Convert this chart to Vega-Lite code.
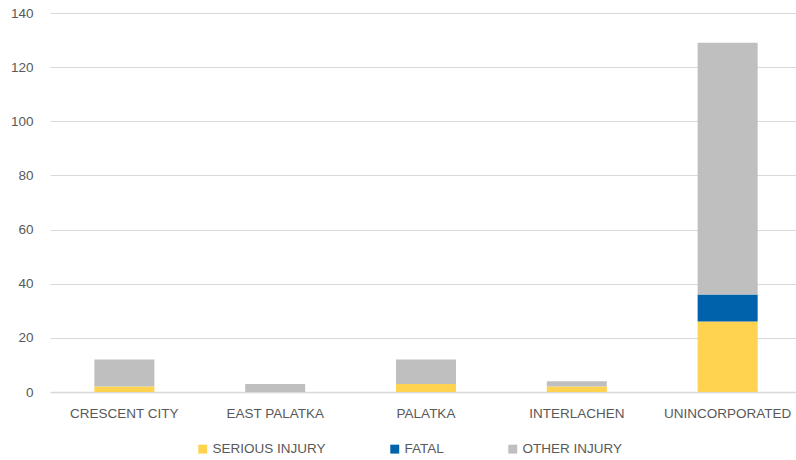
{
  "$schema": "https://vega.github.io/schema/vega-lite/v6.json",
  "autosize": {"type": "none"},
  "padding": {"left": 50, "top": 13, "right": 0, "bottom": 68},
  "width": 752,
  "height": 379,
  "background": "white",
  "data": {
    "values": [
      {"area": "CRESCENT CITY", "type": "SERIOUS INJURY", "k": 1, "count": 2},
      {"area": "CRESCENT CITY", "type": "FATAL", "k": 2, "count": 0},
      {"area": "CRESCENT CITY", "type": "OTHER INJURY", "k": 3, "count": 10},
      {"area": "EAST PALATKA", "type": "SERIOUS INJURY", "k": 1, "count": 0},
      {"area": "EAST PALATKA", "type": "FATAL", "k": 2, "count": 0},
      {"area": "EAST PALATKA", "type": "OTHER INJURY", "k": 3, "count": 3},
      {"area": "PALATKA", "type": "SERIOUS INJURY", "k": 1, "count": 3},
      {"area": "PALATKA", "type": "FATAL", "k": 2, "count": 0},
      {"area": "PALATKA", "type": "OTHER INJURY", "k": 3, "count": 9},
      {"area": "INTERLACHEN", "type": "SERIOUS INJURY", "k": 1, "count": 2},
      {"area": "INTERLACHEN", "type": "FATAL", "k": 2, "count": 0},
      {"area": "INTERLACHEN", "type": "OTHER INJURY", "k": 3, "count": 2},
      {"area": "UNINCORPORATED", "type": "SERIOUS INJURY", "k": 1, "count": 26},
      {"area": "UNINCORPORATED", "type": "FATAL", "k": 2, "count": 10},
      {"area": "UNINCORPORATED", "type": "OTHER INJURY", "k": 3, "count": 93}
    ]
  },
  "mark": {"type": "bar"},
  "encoding": {
    "x": {
      "field": "area",
      "type": "nominal",
      "sort": null,
      "scale": {"paddingInner": 0.602, "paddingOuter": 0.294},
      "axis": {
        "title": null,
        "labelAngle": 0,
        "ticks": false,
        "domainColor": "#d9d9d9",
        "domainWidth": 1.5,
        "labelPadding": 14,
        "labelFont": "Liberation Sans",
        "labelFontSize": 13.5,
        "labelColor": "#595959"
      }
    },
    "y": {
      "field": "count",
      "type": "quantitative",
      "stack": "zero",
      "scale": {"domain": [0, 140]},
      "axis": {
        "title": null,
        "values": [0, 20, 40, 60, 80, 100, 120, 140],
        "domain": false,
        "ticks": false,
        "gridColor": "#d9d9d9",
        "gridWidth": 1.2,
        "labelPadding": 17,
        "labelFont": "Liberation Sans",
        "labelFontSize": 13.5,
        "labelColor": "#595959"
      }
    },
    "color": {
      "field": "type",
      "type": "nominal",
      "scale": {
        "domain": ["SERIOUS INJURY", "FATAL", "OTHER INJURY"],
        "range": ["#FFD24F", "#0062AB", "#BFBFBF"]
      },
      "legend": {
        "title": null,
        "orient": "none",
        "legendX": 146,
        "legendY": 429,
        "direction": "horizontal",
        "symbolType": "square",
        "symbolSize": 80,
        "symbolStrokeWidth": 0,
        "labelFont": "Liberation Sans",
        "labelFontSize": 13.5,
        "labelColor": "#595959",
        "labelOffset": 3,
        "columnPadding": 62
      }
    },
    "order": {"field": "k", "type": "quantitative"}
  },
  "config": {
    "view": {"stroke": null}
  }
}
